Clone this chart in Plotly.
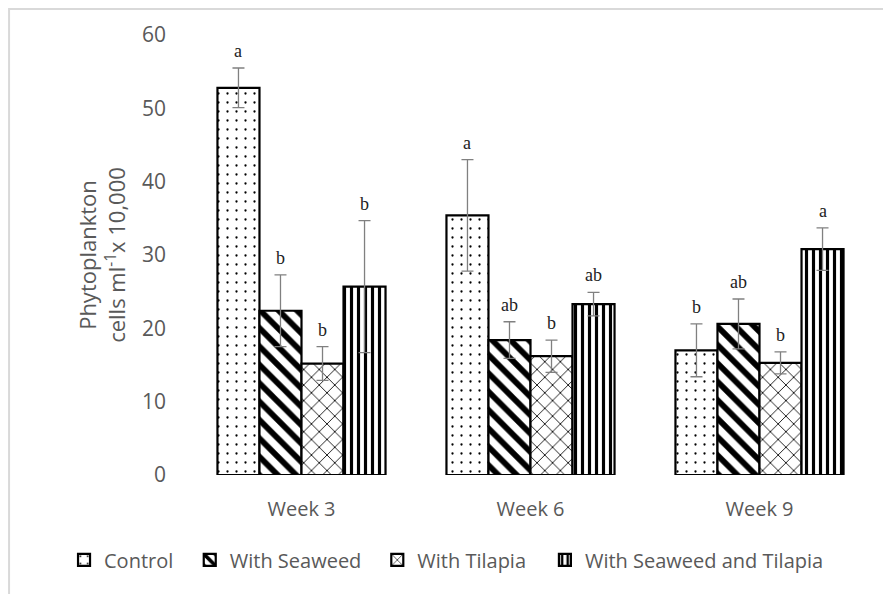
import plotly.graph_objects as go

weeks = ["Week 3", "Week 6", "Week 9"]
series_names = ["Control", "With Seaweed", "With Tilapia", "With Seaweed and Tilapia"]
control = [52.8, 35.4, 17.0]
control_err = [2.7, 7.6, 3.6]
seaweed = [22.4, 18.4, 20.6]
seaweed_err = [4.9, 2.5, 3.4]
tilapia = [15.2, 16.2, 15.3]
tilapia_err = [2.3, 2.2, 1.5]
combo = [25.7, 23.3, 30.8]
combo_err = [9.0, 1.6, 2.9]
control_letters = ["a", "a", "b"]
seaweed_letters = ["b", "ab", "ab"]
tilapia_letters = ["b", "b", "b"]
combo_letters = ["b", "ab", "a"]

values = [control, seaweed, tilapia, combo]
errors = [control_err, seaweed_err, tilapia_err, combo_err]
letters = [control_letters, seaweed_letters, tilapia_letters, combo_letters]
patterns = [
    dict(shape=".", size=9, solidity=0.05, fgcolor="black", bgcolor="white", fgopacity=1),
    dict(shape="\\", size=13, solidity=0.45, fgcolor="black", bgcolor="white", fgopacity=1),
    dict(shape="x", size=11, solidity=0.15, fgcolor="black", bgcolor="white", fgopacity=1),
    dict(shape="|", size=7, solidity=0.45, fgcolor="black", bgcolor="white", fgopacity=1),
]
legend_ids = ["legend", "legend2", "legend3", "legend4"]
legend_x = [-0.179, 0.004, 0.277, 0.521]

bargap = 0.266
n = len(series_names)
w = (1 - bargap) / n

fig = go.Figure()
for i in range(n):
    fig.add_trace(go.Bar(
        name=series_names[i],
        x=list(range(len(weeks))),
        y=values[i],
        legend=legend_ids[i],
        showlegend=True,
        marker=dict(color="white", pattern=patterns[i], line=dict(color="black", width=2.2)),
        error_y=dict(type="data", array=errors[i], color="#808080", thickness=1.3, width=6),
    ))

annotations = []
for i in range(n):
    off = (i - (n - 1) / 2) * w
    for j in range(len(weeks)):
        annotations.append(dict(
            x=j + off, y=values[i][j] + errors[i][j], xref="x", yref="y",
            text=letters[i][j], showarrow=False, yanchor="middle", yshift=17,
            font=dict(family="Liberation Serif", size=18, color="#222222"),
        ))

legend_common = dict(orientation="h", xanchor="left", y=-0.193, yanchor="middle",
                     font=dict(size=20, color="#595959"), itemwidth=30,
                     bgcolor="rgba(0,0,0,0)", visible=True)

fig.update_layout(
    width=891, height=594,
    showlegend=True,
    margin=dict(l=179, r=25, t=27, b=127),
    paper_bgcolor="white", plot_bgcolor="white",
    barmode="group", bargap=bargap, bargroupgap=0,
    font=dict(family="Open Sans", size=20, color="#595959"),
    xaxis=dict(
        tickmode="array", tickvals=list(range(len(weeks))), ticktext=weeks,
        range=[-0.5, 2.5], showline=False, showgrid=False, zeroline=False, ticks="",
        tickfont=dict(size=20, color="#595959"), automargin=False, ticklabelstandoff=20,
    ),
    yaxis=dict(
        range=[0, 60], dtick=10, showline=False, showgrid=False, zeroline=False, ticks="",
        tickfont=dict(size=21, color="#595959"), automargin=False, ticklabelstandoff=20,
        title=dict(text="Phytoplankton<br>cells ml<sup>-1</sup>x 10,000", standoff=10,
                   font=dict(size=22, color="#595959")),
    ),
    annotations=annotations,
    shapes=[dict(type="rect", xref="paper", yref="paper", x0=-0.259, x1=1.05, y0=-0.3, y1=1.059,
                 line=dict(color="#d9d9d9", width=2), layer="below")],
)
for i in range(n):
    fig.update_layout({legend_ids[i]: dict(legend_common, x=legend_x[i])})

fig.write_html("out.html")
